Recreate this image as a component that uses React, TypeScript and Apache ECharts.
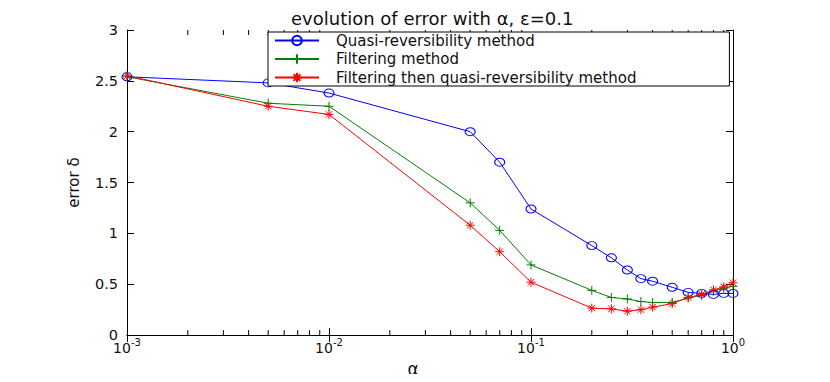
import React, { useEffect, useRef } from "react";
import * as echarts from "echarts";

const alphas = [0.001, 0.005, 0.01, 0.05, 0.07, 0.1, 0.2, 0.25, 0.3, 0.35, 0.4, 0.5, 0.6, 0.7, 0.8, 0.9, 1.0];
const quasiReversibility = [2.54, 2.48, 2.38, 2.0, 1.7, 1.24, 0.88, 0.76, 0.64, 0.555, 0.53, 0.47, 0.42, 0.41, 0.4, 0.41, 0.41];
const filtering = [2.54, 2.28, 2.25, 1.3, 1.03, 0.69, 0.44, 0.37, 0.355, 0.33, 0.32, 0.32, 0.365, 0.39, 0.43, 0.46, 0.48];
const filteringThenQuasi = [2.55, 2.25, 2.17, 1.08, 0.82, 0.52, 0.265, 0.258, 0.235, 0.25, 0.275, 0.31, 0.37, 0.4, 0.445, 0.475, 0.515];
const minorTicks = [
  0.002, 0.003, 0.004, 0.005, 0.006, 0.007, 0.008, 0.009,
  0.02, 0.03, 0.04, 0.05, 0.06, 0.07, 0.08, 0.09,
  0.2, 0.3, 0.4, 0.5, 0.6, 0.7, 0.8, 0.9,
];
const seriesNames = [
  "Quasi-reversibility method",
  "Filtering method",
  "Filtering then quasi-reversibility method",
];
const yMin = 0;
const yMax = 3;

const FONT = "'DejaVu Sans', 'Liberation Sans', Arial, sans-serif";
const CIRCLE = "path://M10,4A5,4,0,1,1,0,4A5,4,0,1,1,10,4Z";
const PLUS = "path://M0,5L10,5M5,0L5,10";
const STAR = "path://M0,5L10,5M5,0L5,10M1.5,1.5L8.5,8.5M1.5,8.5L8.5,1.5";

export default function App() {
  const ref = useRef<HTMLDivElement>(null);
  useEffect(() => {
    if (!ref.current) return;
    const chart = echarts.init(ref.current, null, { renderer: "svg" });
    const pairs = (ys: number[]) => alphas.map((a, i) => [a, ys[i]]);
    const lineSeries = (name: string, ys: number[], color: string, symbol: string, size: any) => ({
      name,
      type: "line",
      data: pairs(ys),
      symbol,
      symbolSize: size,
      showAllSymbol: true,
      lineStyle: { color, width: 1 },
      itemStyle: { color: symbol === CIRCLE ? "rgba(0,0,0,0)" : color, borderColor: color, borderWidth: 1 },
      emphasis: { disabled: true },
      z: 3,
    });
    const tickAxisCommon = {
      axisLine: { show: true, lineStyle: { color: "#000", width: 1 } },
      splitLine: { show: false },
    };
    chart.setOption({
      animation: false,
      backgroundColor: "#fff",
      title: {
        text: "evolution of error with α, ε=0.1",
        left: 286,
        top: 4,
        textStyle: { fontFamily: FONT, fontSize: 18, fontWeight: "normal", color: "#111" },
      },
      legend: {
        data: seriesNames,
        orient: "vertical",
        left: 268,
        top: 32,
        padding: [1, 93, 1, 6],
        itemGap: 3.5,
        itemWidth: 44,
        itemHeight: 12,
        backgroundColor: "#fff",
        borderColor: "#000",
        borderWidth: 1,
        borderRadius: 0,
        textStyle: { fontFamily: FONT, fontSize: 15, color: "#111", padding: [0, 0, 0, 12] },
      },
      grid: { left: 127, right: 97, top: 30, bottom: 42 },
      xAxis: [
        {
          type: "log",
          logBase: 10,
          min: 0.001,
          max: 1,
          interval: 1,
          name: "α",
          nameLocation: "middle",
          nameGap: 13,
          nameTextStyle: { fontFamily: FONT, fontSize: 17, color: "#111", padding: [0, 34, 0, 0] },
          ...tickAxisCommon,
          axisTick: { show: true, inside: true, length: 7, lineStyle: { color: "#000" } },
          axisLabel: {
            margin: 2,
            formatter: (v: number) => `{b|10}{s|${Math.round(Math.log10(v))}}`,
            rich: {
              b: { fontFamily: FONT, fontSize: 14, color: "#111", verticalAlign: "bottom" },
              s: { fontFamily: FONT, fontSize: 10, color: "#111", verticalAlign: "bottom", padding: [0, 0, 8, 0] },
            },
          },
        },
        {
          type: "log",
          logBase: 10,
          min: 0.001,
          max: 1,
          interval: 1,
          position: "top",
          ...tickAxisCommon,
          axisTick: { show: true, inside: true, length: 7, lineStyle: { color: "#000" } },
          axisLabel: { show: false },
        },
      ],
      yAxis: [
        {
          type: "value",
          min: yMin,
          max: yMax,
          interval: 0.5,
          name: "error δ",
          nameLocation: "middle",
          nameGap: 46,
          nameTextStyle: { fontFamily: FONT, fontSize: 15, color: "#111" },
          ...tickAxisCommon,
          axisTick: { show: true, inside: true, length: 7, lineStyle: { color: "#000" } },
          axisLabel: { fontFamily: FONT, fontSize: 14.5, color: "#111", margin: 9 },
        },
        {
          type: "value",
          min: yMin,
          max: yMax,
          interval: 0.5,
          position: "right",
          ...tickAxisCommon,
          axisTick: { show: true, inside: true, length: 7, lineStyle: { color: "#000" } },
          axisLabel: { show: false },
        },
      ],
      series: [
        lineSeries(seriesNames[0], quasiReversibility, "#0000ff", CIRCLE, [10, 8]),
        lineSeries(seriesNames[1], filtering, "#008000", PLUS, 9),
        lineSeries(seriesNames[2], filteringThenQuasi, "#ff0000", STAR, 9),
        {
          type: "custom",
          silent: true,
          xAxisIndex: 0,
          yAxisIndex: 0,
          data: minorTicks.map((v) => [v, yMin]),
          renderItem: (_params: any, api: any) => {
            const v = api.value(0);
            const b = api.coord([v, yMin]);
            const t = api.coord([v, yMax]);
            const style = { stroke: "#000", lineWidth: 1 };
            return {
              type: "group",
              children: [
                { type: "line", shape: { x1: b[0], y1: b[1], x2: b[0], y2: b[1] - 5 }, style },
                { type: "line", shape: { x1: t[0], y1: t[1], x2: t[0], y2: t[1] + 5 }, style },
              ],
            };
          },
          z: 1,
        },
      ],
    });
    return () => chart.dispose();
  }, []);
  return <div ref={ref} style={{ width: 830, height: 382, margin: -8 }} />;
}
